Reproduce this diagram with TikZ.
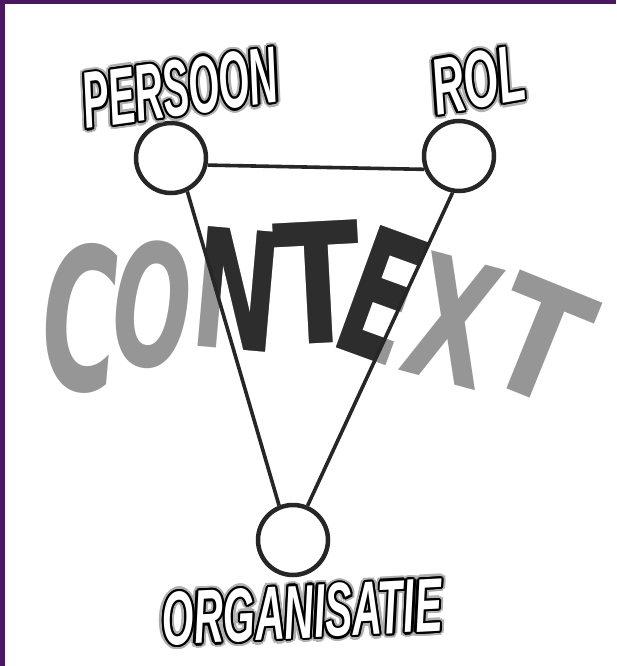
\documentclass[tikz,border=0pt]{standalone}
\usepackage{fontspec}
\usepackage{tikz}
\usetikzlibrary{calc}
\newfontfamily\ctxfont{DejaVu Sans}
\newfontfamily\lblfont{Liberation Sans}
\definecolor{framepurple}{RGB}{74,24,96}
\definecolor{ctxgray}{RGB}{150,150,150}
\definecolor{ctxdark}{RGB}{45,45,45}
\definecolor{lblshade}{RGB}{175,175,175}
\tikzset{
  knot/.style={circle, draw=black!85, line width=4.5pt, minimum size=70pt, inner sep=0pt, fill=white},
  link/.style={draw=black!85, line width=3.6pt},
  ltr/.style={font=\ctxfont\bfseries\fontsize{170}{170}\selectfont, inner sep=0pt},
  lbl/.style={font=\lblfont\bfseries\itshape\fontsize{80}{80}\selectfont, inner sep=0pt}
}
% the word, once per colour
\newcommand{\ctxletters}[2]{%
  \node[ltr, text=#2, rotate=-5]  (#1c)  at (80,318)  {\scalebox{0.62}[1.17]{C}};
  \node[ltr, text=#2, rotate=-8]  (#1o)  at (152,305) {\scalebox{0.55}[1.0]{O}};
  \node[ltr, text=#2, rotate=-5]  (#1n)  at (237,289) {\scalebox{0.61}[0.97]{N}};
  \node[ltr, text=#2, rotate=3]   (#1t)  at (318,283) {\scalebox{0.74}[0.98]{T}};
  \node[ltr, text=#2, rotate=-20] (#1e)  at (382,295) {\scalebox{0.6}[1.05]{E}};
  \node[ltr, text=#2, rotate=-15] (#1x)  at (453,320) {\scalebox{0.64}[1.0]{X}};
  \node[ltr, text=#2, rotate=-22] (#1tt) at (540,340) {\scalebox{0.78}[0.93]{T}};
}
% outlined label: name, position, rotation, text
\newcommand{\outlabel}[4]{%
  \foreach \a in {0,30,...,330}
    \node[lbl, text=lblshade, rotate=#3] (#1s\a) at ($(#2)+(\a:4.5)$) {#4};
  \foreach \a in {0,30,...,330}
    \node[lbl, text=black, rotate=#3] (#1k\a) at ($(#2)+(\a:2.2)$) {#4};
  \node[lbl, text=white, rotate=#3] (#1) at (#2) {#4};
}

\begin{document}
\begin{tikzpicture}[x=1pt, y=-1pt]
\useasboundingbox (0,0) rectangle (616,666);
\fill[white] (0,0) rectangle (616,666);
\fill[framepurple] (0,0) rectangle (616,4);
\fill[framepurple] (0,0) rectangle (5,666);

\node[knot] (persoon) at (171,158) {};
\node[knot] (rol) at (459,156) {};
\node[knot] (org) at (293,540) {};

\coordinate (l1) at ($(persoon.-64)!-0.4!(org.112)$);
\coordinate (l2) at ($(persoon.-64)!1.2!(org.112)$);
\coordinate (r1) at ($(rol.-100)!-0.4!(org.67)$);
\coordinate (r2) at ($(rol.-100)!1.2!(org.67)$);

\ctxletters{g}{ctxgray}
\begin{scope}
  \clip (l1) -- (r1) -- (r2) -- (l2) -- cycle;
  \ctxletters{b}{ctxdark}
\end{scope}

\draw[link] (persoon.-11) -- (rol.201);
\draw[link] (persoon.-64) -- (org.112);
\draw[link] (rol.-100) -- (org.67);

\outlabel{lpersoon}{180,88}{8}{\scalebox{0.49}[1]{PERSOON}}
\outlabel{lrol}{478,80}{10}{\scalebox{0.55}[1]{ROL}}
\outlabel{lorg}{302,612}{3}{\scalebox{0.51}[0.95]{ORGANISATIE}}
\end{tikzpicture}
\end{document}
